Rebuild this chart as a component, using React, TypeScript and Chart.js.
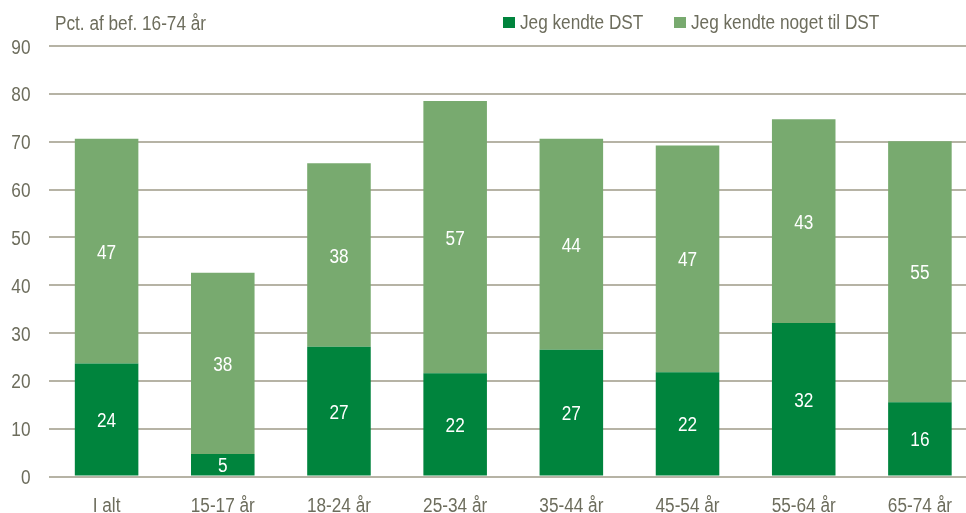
import React, { useEffect, useRef } from "react";
import { Chart, registerables } from "chart.js";

Chart.register(...registerables);

const categories = ["I alt", "15-17 år", "18-24 år", "25-34 år", "35-44 år", "45-54 år", "55-64 år", "65-74 år"];
const knewDST = [23.6, 4.7, 27.1, 21.6, 26.5, 21.8, 32.1, 15.5];
const knewSomeDST = [47.0, 37.9, 38.4, 56.9, 44.1, 47.4, 42.6, 54.6];
const seriesNames = ["Jeg kendte DST", "Jeg kendte noget til DST"];
const yTicks = [0, 10, 20, 30, 40, 50, 60, 70, 80, 90];
const axisTitle = "Pct. af bef. 16-74 år";

const DARK = "#00843d";
const LIGHT = "#78aa6f";
const TEXT = "#6d6d5d";
const GRID = "#b6b3a5";
const FONT = "'Liberation Sans', Arial, sans-serif";
const SQUEEZE = 0.86;

function drawText(ctx: CanvasRenderingContext2D, text: string, x: number, y: number, align: CanvasTextAlign, color: string) {
  ctx.save();
  ctx.translate(x, y);
  ctx.scale(SQUEEZE, 1);
  ctx.textAlign = align;
  ctx.textBaseline = "alphabetic";
  ctx.fillStyle = color;
  ctx.fillText(text, 0, 0);
  ctx.restore();
}

const overlayPlugin = {
  id: "overlay",
  afterDatasetsDraw(chart: any) {
    const ctx = chart.ctx as CanvasRenderingContext2D;
    ctx.save();
    ctx.font = `20px ${FONT}`;
    // data labels
    chart.data.datasets.forEach((ds: any, di: number) => {
      const meta = chart.getDatasetMeta(di);
      meta.data.forEach((el: any, i: number) => {
        const v = ds.data[i];
        const y = (el.y + el.base) / 2 + 7.5;
        drawText(ctx, String(Math.round(v)), el.x, y, "center", "#ffffff");
      });
    });
    // y tick labels
    const ys = chart.scales.y;
    yTicks.forEach((v) => {
      drawText(ctx, String(v), 30.5, ys.getPixelForValue(v) + 7.5, "right", TEXT);
    });
    // x tick labels
    const xs = chart.scales.x;
    categories.forEach((c, i) => {
      drawText(ctx, c, xs.getPixelForValue(i), 512, "center", TEXT);
    });
    // title
    drawText(ctx, axisTitle, 55, 30, "left", TEXT);
    // legend
    const colors = [DARK, LIGHT];
    const boxX = [503, 674];
    seriesNames.forEach((name, i) => {
      ctx.fillStyle = colors[i];
      ctx.fillRect(boxX[i], 17, 12, 11);
      drawText(ctx, name, boxX[i] + 17, 29, "left", TEXT);
    });
    ctx.restore();
  },
};

export default function App() {
  const ref = useRef<HTMLCanvasElement | null>(null);
  useEffect(() => {
    document.body.style.margin = "0";
    if (!ref.current) return;
    const chart = new Chart(ref.current, {
      type: "bar",
      data: {
        labels: categories,
        datasets: [
          { label: seriesNames[0], data: knewDST, backgroundColor: DARK, borderWidth: 0 },
          { label: seriesNames[1], data: knewSomeDST, backgroundColor: LIGHT, borderWidth: 0 },
        ],
      },
      options: {
        responsive: false,
        animation: false,
        devicePixelRatio: 1,
        layout: { padding: { top: 46, right: 2, left: 0, bottom: 0 } },
        datasets: { bar: { categoryPercentage: 1, barPercentage: 0.547 } },
        plugins: {
          legend: { display: false },
          title: { display: false },
          tooltip: { enabled: false },
        },
        scales: {
          x: {
            stacked: true,
            grid: { display: false, drawTicks: false },
            border: { display: false },
            ticks: { display: false },
            afterFit: (s: any) => { s.height = 36.5; },
          },
          y: {
            stacked: true,
            min: 0,
            max: 90,
            afterBuildTicks: (s: any) => { s.ticks = yTicks.map((v) => ({ value: v })); },
            grid: { color: GRID, lineWidth: 2, drawTicks: false },
            border: { display: false },
            ticks: { display: false },
            afterFit: (s: any) => { s.width = 48.5; },
          },
        },
      },
      plugins: [overlayPlugin],
    });
    return () => chart.destroy();
  }, []);
  return (
    <div style={{ width: 966, height: 513, overflow: "hidden", background: "#fff" }}>
      <canvas ref={ref} width={980} height={513} style={{ display: "block" }} />
    </div>
  );
}
